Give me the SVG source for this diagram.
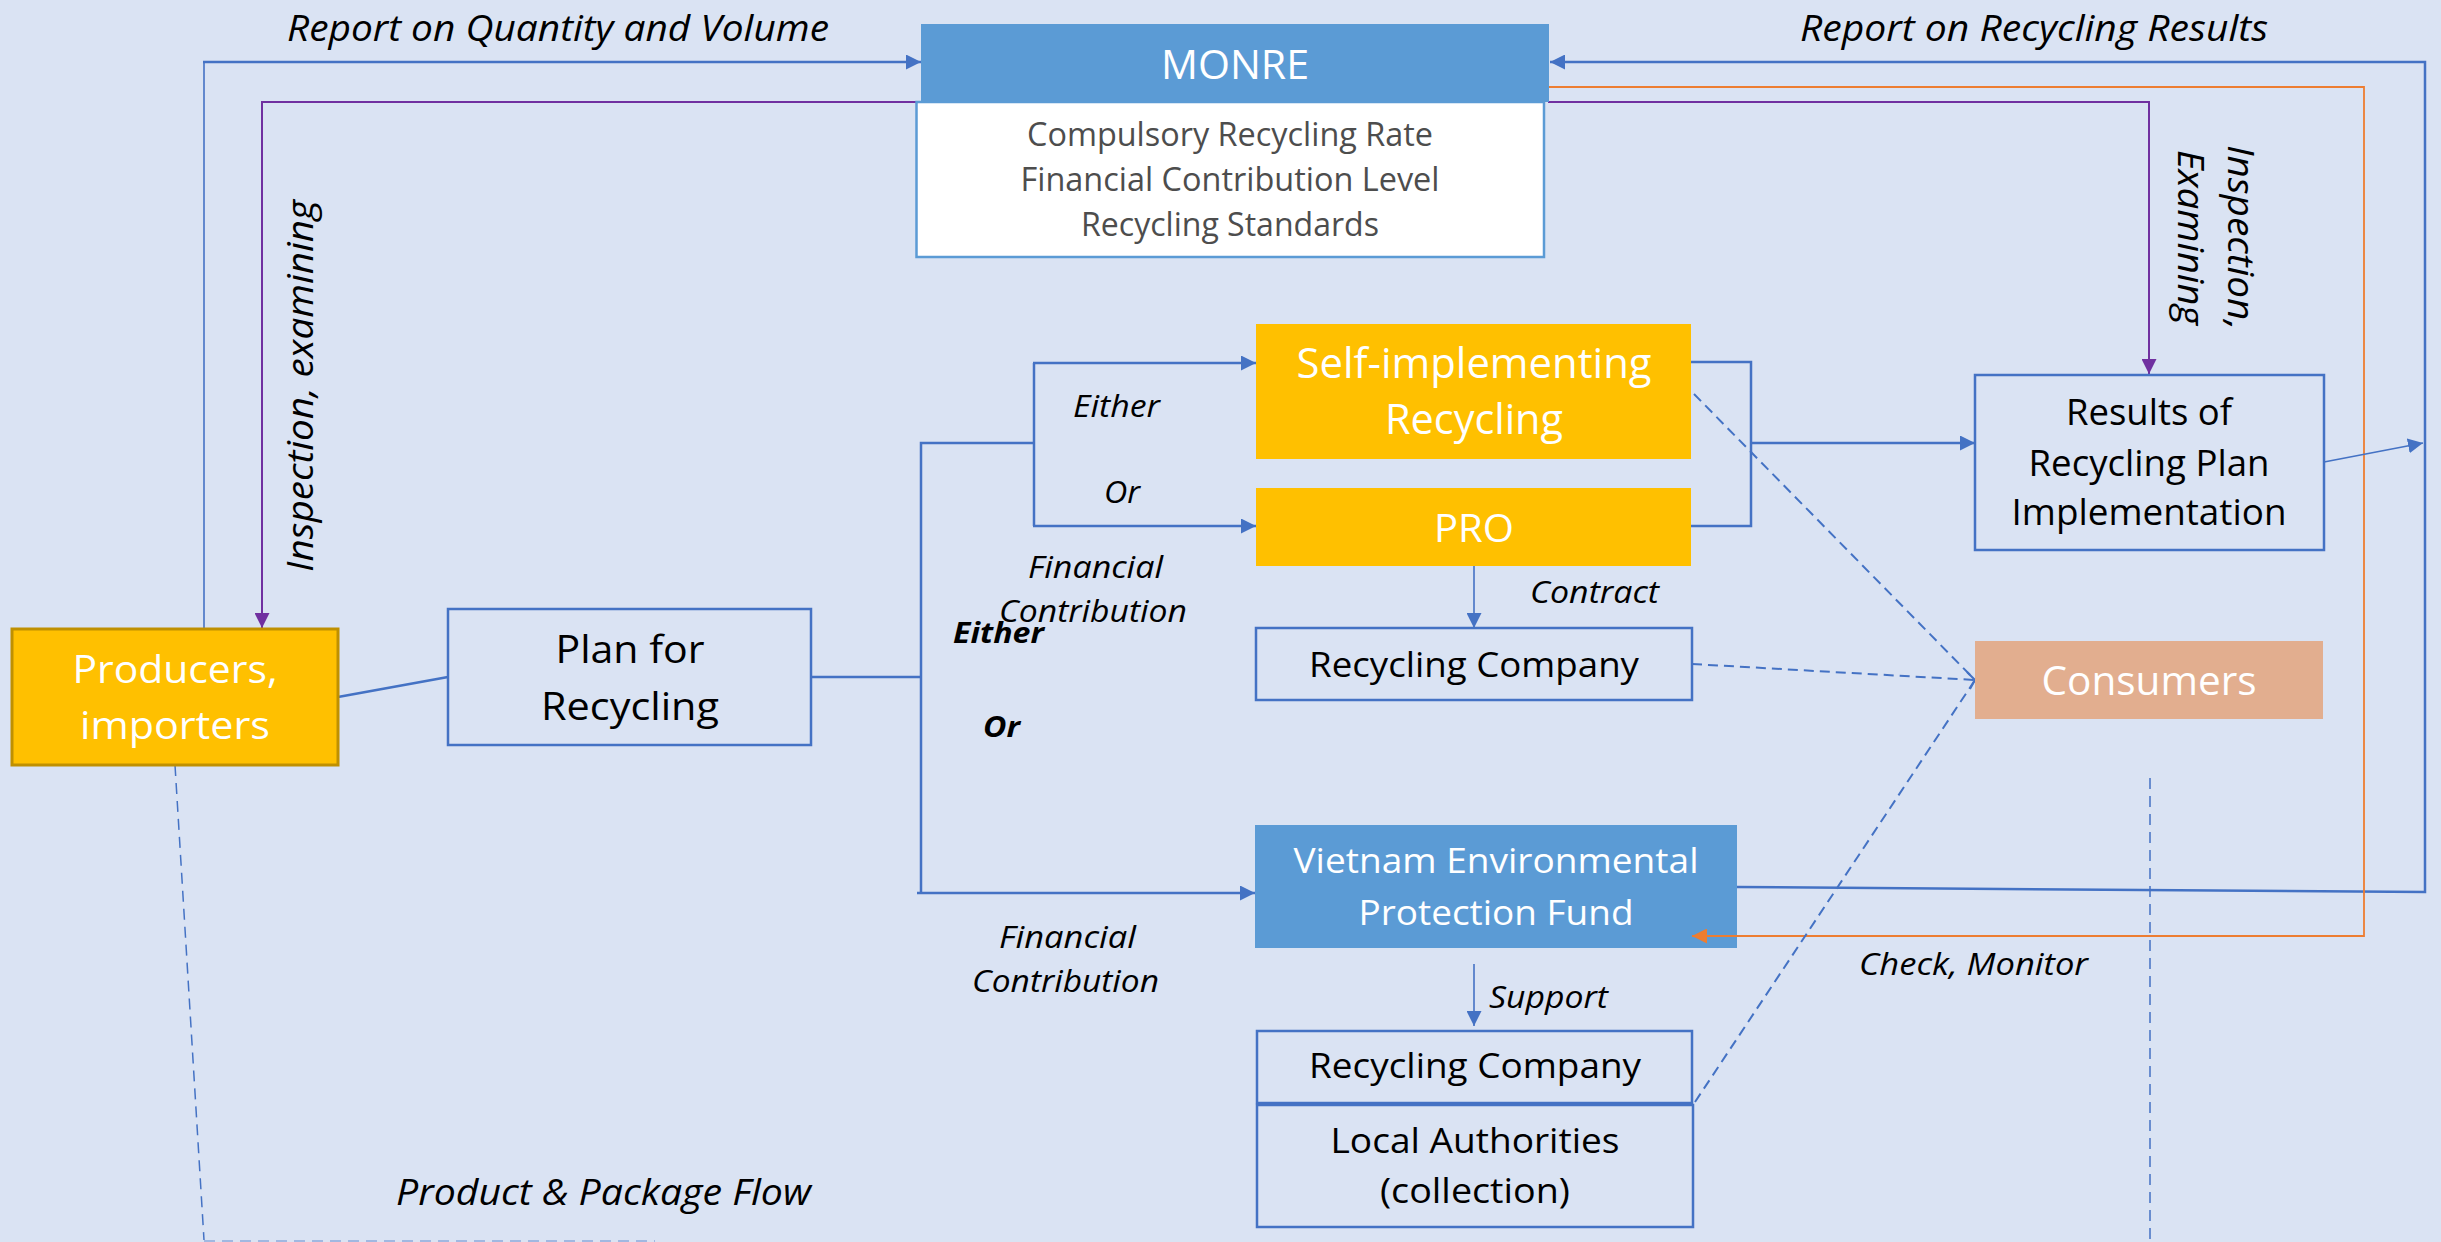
<svg xmlns="http://www.w3.org/2000/svg" width="2441" height="1242" viewBox="0 0 2441 1242">
  <style>
    text { font-family: "Open Sans", "Liberation Sans", sans-serif; }
    .bt { font-size: 39px; text-anchor: middle; }
    .w { fill: #ffffff; }
    .k { fill: #000000; }
    .lbl { font-style: italic; font-size: 31px; fill: #000000; }
    .lbl-l { font-style: italic; font-size: 36px; fill: #000000; }
    .lbl-b { font-style: italic; font-weight: bold; font-size: 29px; fill: #000000; }
    .sub { font-size: 32px; fill: #4d4d4d; text-anchor: middle; }
    .line { fill: none; stroke: #4472C4; stroke-width: 2.5; }
    .thin { fill: none; stroke: #4472C4; stroke-width: 1.6; }
    .dash { fill: none; stroke: #4472C4; stroke-width: 2; stroke-dasharray: 10 6; }
    .dash-thin { fill: none; stroke: #4472C4; stroke-width: 1.5; stroke-dasharray: 11 7; }
    .purple { fill: none; stroke: #7030A0; stroke-width: 2; }
    .orange { fill: none; stroke: #ED7D31; stroke-width: 1.8; }
    .outline { fill: none; stroke: #4472C4; stroke-width: 2.5; }
  </style>
  <defs>
    <marker id="arrow-blue" markerUnits="userSpaceOnUse" markerWidth="15" markerHeight="15" refX="15" refY="7.5" orient="auto">
      <path d="M0,0 L15,7.5 L0,15 z" fill="#4472C4"/>
    </marker>
    <marker id="arrow-purple" markerUnits="userSpaceOnUse" markerWidth="15" markerHeight="15" refX="15" refY="7.5" orient="auto">
      <path d="M0,0 L15,7.5 L0,15 z" fill="#7030A0"/>
    </marker>
    <marker id="arrow-orange" markerUnits="userSpaceOnUse" markerWidth="15" markerHeight="15" refX="15" refY="7.5" orient="auto">
      <path d="M0,0 L15,7.5 L0,15 z" fill="#ED7D31"/>
    </marker>
  </defs>

  <!-- page background -->
  <rect x="0" y="0" width="2441" height="1242" fill="#DAE3F3"/>

  <!-- connectors -->
  <g id="connectors">
    <!-- producers report up to MONRE -->
    <polyline class="thin" points="204,629 204,62"/>
    <line class="line" x1="203" y1="62" x2="921" y2="62" marker-end="url(#arrow-blue)"/>
    <!-- MONRE inspection down to producers -->
    <polyline class="purple" points="918,102 262,102 262,628" marker-end="url(#arrow-purple)"/>
    <!-- MONRE inspection down to results -->
    <polyline class="purple" points="1548,102 2149,102 2149,374" marker-end="url(#arrow-purple)"/>
    <!-- report on recycling results back to MONRE -->
    <polyline class="line" points="1737,887 2425,892 2425,62 1550,62" marker-end="url(#arrow-blue)"/>
    <!-- check / monitor of the fund (arrow tip drawn over the fund box below) -->
    <polyline class="orange" points="1549,87 2364,87 2364,936 1737,936"/>
    <!-- results forwarded to the report line -->
    <line class="thin" x1="2324" y1="462" x2="2423" y2="443" marker-end="url(#arrow-blue)"/>

    <!-- producers to plan -->
    <line class="line" x1="338" y1="697" x2="448" y2="677"/>
    <!-- plan to branching bus -->
    <line class="line" x1="811" y1="677" x2="921" y2="677"/>
    <polyline class="line" points="921,893 921,443 1034,443"/>
    <polyline class="line" points="1034,363 1034,526"/>
    <line class="line" x1="1033" y1="363" x2="1256" y2="363" marker-end="url(#arrow-blue)"/>
    <line class="line" x1="1033" y1="526" x2="1256" y2="526" marker-end="url(#arrow-blue)"/>
    <line class="line" x1="917" y1="893" x2="1255" y2="893" marker-end="url(#arrow-blue)"/>

    <!-- self-implementing / PRO to results -->
    <polyline class="line" points="1691,362 1751,362 1751,526 1691,526"/>
    <line class="line" x1="1751" y1="443" x2="1975" y2="443" marker-end="url(#arrow-blue)"/>

    <!-- contract and support -->
    <line class="thin" x1="1474" y1="566" x2="1474" y2="628" marker-end="url(#arrow-blue)"/>
    <line class="thin" x1="1474" y1="964" x2="1474" y2="1026" marker-end="url(#arrow-blue)"/>

    <!-- product & package flow -->
    <polyline class="dash-thin" points="175,765 204,1240"/>
    <line x1="204" y1="1241" x2="655" y2="1241" fill="none" stroke="#8FAADC" stroke-width="1.5" stroke-dasharray="11 7"/>
    <!-- flows towards consumers -->
    <line class="dash" x1="1694" y1="394" x2="1975" y2="680"/>
    <line class="dash" x1="1692" y1="664" x2="1975" y2="680"/>
    <line class="dash" x1="1695" y1="1102" x2="1975" y2="680"/>
    <polyline fill="none" stroke="#4472C4" stroke-width="2" points="1967,672 1975,680 1970,689"/>
    <line class="dash-thin" x1="2150" y1="778" x2="2150" y2="1242"/>
  </g>

  <!-- connector labels -->
  <g id="labels">
    <text class="lbl-l" x="287" y="41" textLength="542" lengthAdjust="spacingAndGlyphs">Report on Quantity and Volume</text>
    <text class="lbl-l" x="1800" y="41" textLength="468" lengthAdjust="spacingAndGlyphs">Report on Recycling Results</text>
    <text class="lbl-l" transform="translate(313,572) rotate(-90)" textLength="372" lengthAdjust="spacingAndGlyphs">Inspection, examining</text>
    <text class="lbl-l" transform="translate(2228,145) rotate(90)" textLength="185" lengthAdjust="spacingAndGlyphs">Inspection,</text>
    <text class="lbl-l" transform="translate(2178,150) rotate(90)" textLength="175" lengthAdjust="spacingAndGlyphs">Examining</text>
    <text class="lbl" x="1073" y="417" textLength="87" lengthAdjust="spacingAndGlyphs">Either</text>
    <text class="lbl" x="1104" y="503" textLength="36" lengthAdjust="spacingAndGlyphs">Or</text>
    <text class="lbl" x="1028" y="578" textLength="135" lengthAdjust="spacingAndGlyphs">Financial</text>
    <text class="lbl" x="999" y="622" textLength="188" lengthAdjust="spacingAndGlyphs">Contribution</text>
    <text class="lbl-b" x="953" y="643" textLength="91" lengthAdjust="spacingAndGlyphs">Either</text>
    <text class="lbl-b" x="983" y="737" textLength="37" lengthAdjust="spacingAndGlyphs">Or</text>
    <text class="lbl" x="1530" y="603" textLength="129" lengthAdjust="spacingAndGlyphs">Contract</text>
    <text class="lbl" x="999" y="948" textLength="137" lengthAdjust="spacingAndGlyphs">Financial</text>
    <text class="lbl" x="972" y="992" textLength="187" lengthAdjust="spacingAndGlyphs">Contribution</text>
    <text class="lbl" x="1859" y="975" textLength="229" lengthAdjust="spacingAndGlyphs">Check, Monitor</text>
    <text class="lbl" x="1489" y="1008" textLength="119" lengthAdjust="spacingAndGlyphs">Support</text>
    <text class="lbl-l" x="396" y="1205" textLength="415" lengthAdjust="spacingAndGlyphs">Product &amp; Package Flow</text>
  </g>

  <!-- MONRE -->
  <g id="monre">
    <rect x="916.5" y="102" width="627.5" height="155" fill="#ffffff" stroke="#5B9BD5" stroke-width="2.5"/>
    <rect x="921" y="24" width="628" height="78" fill="#5B9BD5"/>
    <text class="bt w" x="1235" y="79" style="font-size:40px" textLength="148" lengthAdjust="spacingAndGlyphs">MONRE</text>
    <text class="sub" x="1230" y="146" textLength="406" lengthAdjust="spacingAndGlyphs">Compulsory Recycling Rate</text>
    <text class="sub" x="1230" y="191" textLength="419" lengthAdjust="spacingAndGlyphs">Financial Contribution Level</text>
    <text class="sub" x="1230" y="236" textLength="298" lengthAdjust="spacingAndGlyphs">Recycling Standards</text>
  </g>

  <!-- producers, importers -->
  <g id="producers">
    <rect x="12" y="629" width="326" height="136" fill="#FFC000" stroke="#BF9000" stroke-width="3"/>
    <text class="bt w" x="175" y="683" textLength="205" lengthAdjust="spacingAndGlyphs">Producers,</text>
    <text class="bt w" x="175" y="739" textLength="190" lengthAdjust="spacingAndGlyphs">importers</text>
  </g>

  <!-- plan for recycling -->
  <g id="plan">
    <rect class="outline" x="448" y="609" width="363" height="136"/>
    <text class="bt k" x="630" y="663" textLength="149" lengthAdjust="spacingAndGlyphs">Plan for</text>
    <text class="bt k" x="630" y="720" textLength="178" lengthAdjust="spacingAndGlyphs">Recycling</text>
  </g>

  <!-- self-implementing recycling -->
  <g id="self-implementing">
    <rect x="1256" y="324" width="435" height="135" fill="#FFC000"/>
    <text class="bt w" x="1474" y="378" style="font-size:42px" textLength="355" lengthAdjust="spacingAndGlyphs">Self-implementing</text>
    <text class="bt w" x="1474" y="434" style="font-size:42px" textLength="178" lengthAdjust="spacingAndGlyphs">Recycling</text>
  </g>

  <!-- PRO -->
  <g id="pro">
    <rect x="1256" y="488" width="435" height="78" fill="#FFC000"/>
    <text class="bt w" x="1474" y="542" textLength="80" lengthAdjust="spacingAndGlyphs">PRO</text>
  </g>

  <!-- recycling company under contract -->
  <g id="recycling-company-contract">
    <rect class="outline" x="1256" y="628" width="436" height="72"/>
    <text class="bt k" x="1474" y="677" style="font-size:35px" textLength="330" lengthAdjust="spacingAndGlyphs">Recycling Company</text>
  </g>

  <!-- results of recycling plan implementation -->
  <g id="results">
    <rect class="outline" x="1975" y="375" width="349" height="175"/>
    <text class="bt k" x="2149" y="425" style="font-size:37px" textLength="166" lengthAdjust="spacingAndGlyphs">Results of</text>
    <text class="bt k" x="2149" y="476" style="font-size:37px" textLength="241" lengthAdjust="spacingAndGlyphs">Recycling Plan</text>
    <text class="bt k" x="2149" y="525" style="font-size:37px" textLength="275" lengthAdjust="spacingAndGlyphs">Implementation</text>
  </g>

  <!-- consumers -->
  <g id="consumers">
    <rect x="1975" y="641" width="348" height="78" fill="#E2AE8F"/>
    <text class="bt w" x="2149" y="695" style="font-size:40px" textLength="215" lengthAdjust="spacingAndGlyphs">Consumers</text>
  </g>

  <!-- Vietnam Environmental Protection Fund -->
  <g id="vepf">
    <rect x="1255" y="825" width="482" height="123" fill="#5B9BD5"/>
    <text class="bt w" x="1496" y="873" style="font-size:34px" textLength="405" lengthAdjust="spacingAndGlyphs">Vietnam Environmental</text>
    <text class="bt w" x="1496" y="925" style="font-size:34px" textLength="275" lengthAdjust="spacingAndGlyphs">Protection Fund</text>
  </g>
  <!-- end of the orange monitor arrow, lying over the fund box -->
  <line class="orange" x1="1738" y1="936" x2="1692" y2="936" marker-end="url(#arrow-orange)"/>

  <!-- recycling company supported by the fund -->
  <g id="recycling-company-support">
    <rect class="outline" x="1257" y="1031" width="435" height="72"/>
    <text class="bt k" x="1475" y="1078" style="font-size:34px" textLength="332" lengthAdjust="spacingAndGlyphs">Recycling Company</text>
  </g>

  <!-- local authorities -->
  <g id="local-authorities">
    <rect class="outline" x="1257" y="1105" width="436" height="122"/>
    <text class="bt k" x="1475" y="1153" style="font-size:35px" textLength="289" lengthAdjust="spacingAndGlyphs">Local Authorities</text>
    <text class="bt k" x="1475" y="1203" style="font-size:35px" textLength="190" lengthAdjust="spacingAndGlyphs">(collection)</text>
  </g>
</svg>
